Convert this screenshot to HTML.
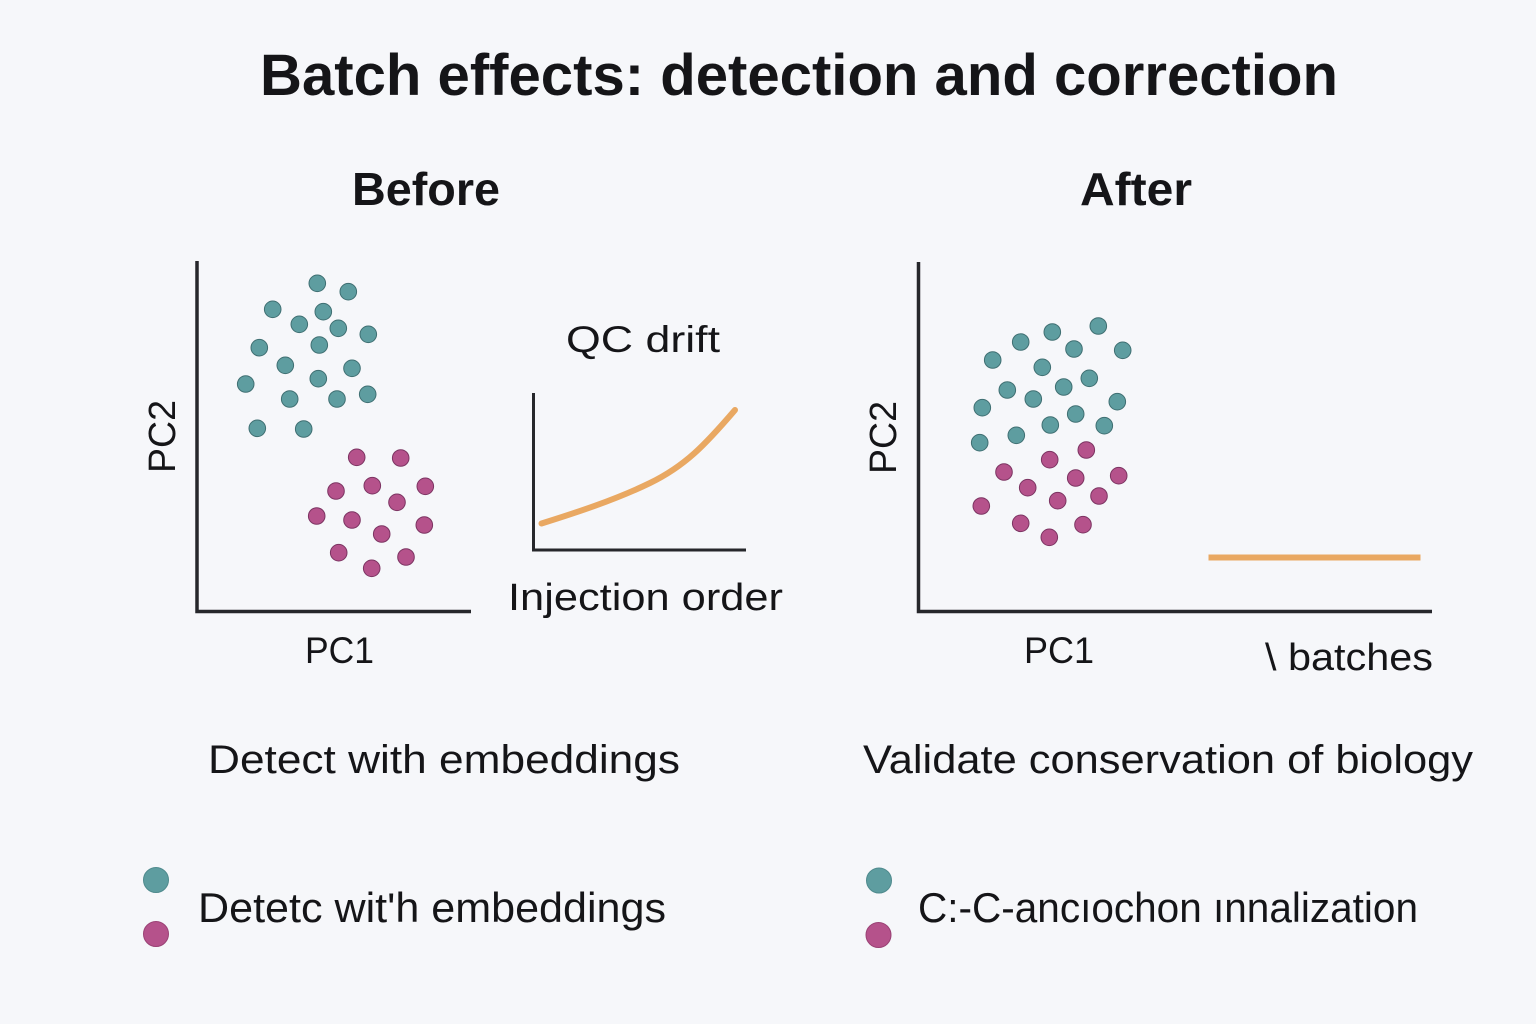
<!DOCTYPE html>
<html>
<head>
<meta charset="utf-8">
<style>
  html, body { margin:0; padding:0; background:#F6F7FA; }
  svg { display:block; }
  text { font-family: "Liberation Sans", "DejaVu Sans", sans-serif; fill:#151518; }
</style>
</head>
<body>
<svg width="1536" height="1024" viewBox="0 0 1536 1024" xmlns="http://www.w3.org/2000/svg">
  <rect width="1536" height="1024" fill="#F6F7FA"/>

  <!-- Title -->
  <text x="260" y="95" font-size="58" font-weight="bold" textLength="1078" lengthAdjust="spacingAndGlyphs">Batch effects: detection and correction</text>

  <!-- Headers -->
  <text x="352" y="205" font-size="46" font-weight="bold" textLength="148" lengthAdjust="spacingAndGlyphs">Before</text>
  <text x="1080" y="205" font-size="46" font-weight="bold" textLength="112" lengthAdjust="spacingAndGlyphs">After</text>

  <!-- Before axes -->
  <path d="M197 261 L197 611.5 L471 611.5" fill="none" stroke="#26272b" stroke-width="3.5"/>
  <text transform="translate(175,473) rotate(-90)" font-size="38" textLength="73" lengthAdjust="spacingAndGlyphs">PC2</text>
  <text x="305" y="663" font-size="37" textLength="69" lengthAdjust="spacingAndGlyphs">PC1</text>

  <!-- Before teal dots -->
  <g fill="#5E9DA0" stroke="#3F6F72" stroke-width="1">
    <circle cx="317.3" cy="283.3" r="8.3"/>
    <circle cx="348.3" cy="291.7" r="8.3"/>
    <circle cx="272.7" cy="309.3" r="8.3"/>
    <circle cx="323.3" cy="311.7" r="8.3"/>
    <circle cx="299.3" cy="324.3" r="8.3"/>
    <circle cx="338.3" cy="328.3" r="8.3"/>
    <circle cx="368.3" cy="334.3" r="8.3"/>
    <circle cx="259.3" cy="347.7" r="8.3"/>
    <circle cx="319.3" cy="345" r="8.3"/>
    <circle cx="285.3" cy="365.3" r="8.3"/>
    <circle cx="352" cy="368.3" r="8.3"/>
    <circle cx="245.7" cy="384" r="8.3"/>
    <circle cx="318.3" cy="378.7" r="8.3"/>
    <circle cx="289.7" cy="399" r="8.3"/>
    <circle cx="337" cy="399" r="8.3"/>
    <circle cx="367.7" cy="394.3" r="8.3"/>
    <circle cx="257.3" cy="428.3" r="8.3"/>
    <circle cx="303.7" cy="429" r="8.3"/>
  </g>
  <!-- Before pink dots -->
  <g fill="#B5528B" stroke="#7C3462" stroke-width="1">
    <circle cx="356.7" cy="457.3" r="8.3"/>
    <circle cx="400.7" cy="458" r="8.3"/>
    <circle cx="372.3" cy="485.7" r="8.3"/>
    <circle cx="425.3" cy="486.3" r="8.3"/>
    <circle cx="336" cy="491" r="8.3"/>
    <circle cx="397" cy="502.3" r="8.3"/>
    <circle cx="316.7" cy="516" r="8.3"/>
    <circle cx="352" cy="520" r="8.3"/>
    <circle cx="424.3" cy="525" r="8.3"/>
    <circle cx="381.7" cy="534" r="8.3"/>
    <circle cx="338.7" cy="552.7" r="8.3"/>
    <circle cx="406" cy="557" r="8.3"/>
    <circle cx="371.7" cy="568.3" r="8.3"/>
  </g>

  <!-- QC drift -->
  <text x="566" y="352" font-size="37" textLength="154" lengthAdjust="spacingAndGlyphs">QC drift</text>
  <path d="M533.5 393 L533.5 550 L746 550" fill="none" stroke="#26272b" stroke-width="3"/>
  <path d="M541.5 523.5 C 575 513, 615 500, 650 483 C 685 466, 705 445, 735 410" fill="none" stroke="#E9A862" stroke-width="6" stroke-linecap="round"/>
  <text x="508" y="610" font-size="38" textLength="275" lengthAdjust="spacingAndGlyphs">Injection order</text>

  <!-- After axes -->
  <path d="M918.5 262 L918.5 611.5 L1432 611.5" fill="none" stroke="#26272b" stroke-width="3.5"/>
  <text transform="translate(896,474) rotate(-90)" font-size="38" textLength="73" lengthAdjust="spacingAndGlyphs">PC2</text>
  <text x="1024" y="663" font-size="37" textLength="70" lengthAdjust="spacingAndGlyphs">PC1</text>

  <!-- After teal dots -->
  <g fill="#5E9DA0" stroke="#3F6F72" stroke-width="1">
    <circle cx="1098.3" cy="326" r="8.3"/>
    <circle cx="1052.3" cy="332" r="8.3"/>
    <circle cx="1020.7" cy="342" r="8.3"/>
    <circle cx="1074" cy="349" r="8.3"/>
    <circle cx="1122.7" cy="350.3" r="8.3"/>
    <circle cx="992.7" cy="360" r="8.3"/>
    <circle cx="1042.3" cy="367.3" r="8.3"/>
    <circle cx="1089.3" cy="378.3" r="8.3"/>
    <circle cx="1007.3" cy="390" r="8.3"/>
    <circle cx="1063.7" cy="387" r="8.3"/>
    <circle cx="1033.3" cy="399" r="8.3"/>
    <circle cx="1117.3" cy="401.7" r="8.3"/>
    <circle cx="982.3" cy="407.7" r="8.3"/>
    <circle cx="1075.7" cy="414" r="8.3"/>
    <circle cx="1050.3" cy="425" r="8.3"/>
    <circle cx="1104.3" cy="425.7" r="8.3"/>
    <circle cx="1016.3" cy="435.3" r="8.3"/>
    <circle cx="979.7" cy="442.7" r="8.3"/>
  </g>
  <!-- After pink dots -->
  <g fill="#B5528B" stroke="#7C3462" stroke-width="1">
    <circle cx="1086.3" cy="450" r="8.3"/>
    <circle cx="1049.7" cy="459.7" r="8.3"/>
    <circle cx="1004" cy="472" r="8.3"/>
    <circle cx="1075.7" cy="478" r="8.3"/>
    <circle cx="1118.7" cy="475.7" r="8.3"/>
    <circle cx="1027.7" cy="487.7" r="8.3"/>
    <circle cx="1099" cy="496" r="8.3"/>
    <circle cx="1057.7" cy="500.7" r="8.3"/>
    <circle cx="981.3" cy="506" r="8.3"/>
    <circle cx="1020.7" cy="523.3" r="8.3"/>
    <circle cx="1083" cy="524.7" r="8.3"/>
    <circle cx="1049.3" cy="537.3" r="8.3"/>
  </g>

  <!-- Flat corrected line -->
  <line x1="1208.5" y1="557.5" x2="1420.5" y2="557.5" stroke="#E9A862" stroke-width="6"/>
  <text x="1265" y="670" font-size="38" textLength="168" lengthAdjust="spacingAndGlyphs">\ batches</text>

  <!-- Captions -->
  <text x="208" y="773" font-size="40" textLength="472" lengthAdjust="spacingAndGlyphs">Detect with embeddings</text>
  <text x="863" y="773" font-size="40" textLength="610" lengthAdjust="spacingAndGlyphs">Validate conservation of biology</text>

  <!-- Legends -->
  <circle cx="156" cy="880" r="12.5" fill="#5E9DA0" stroke="#4F8A8D" stroke-width="1"/>
  <circle cx="156" cy="934" r="12.5" fill="#B5528B" stroke="#9A4275" stroke-width="1"/>
  <text x="198" y="922" font-size="42" textLength="468" lengthAdjust="spacingAndGlyphs">Detetc wit'h embeddings</text>

  <circle cx="879" cy="880.5" r="12.5" fill="#5E9DA0" stroke="#4F8A8D" stroke-width="1"/>
  <circle cx="878.5" cy="935" r="12.5" fill="#B5528B" stroke="#9A4275" stroke-width="1"/>
  <text x="918" y="922" font-size="42" textLength="500" lengthAdjust="spacingAndGlyphs">C:-C-ancıochon ınnalization</text>
</svg>
</body>
</html>
